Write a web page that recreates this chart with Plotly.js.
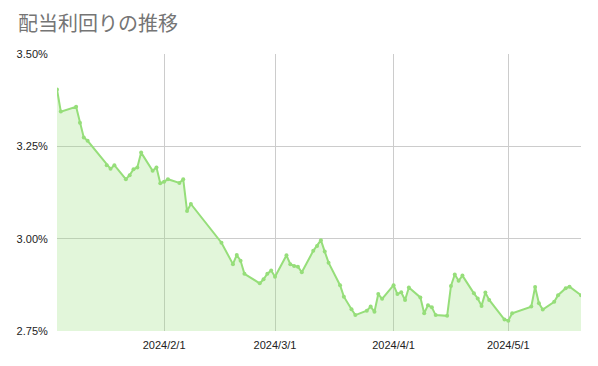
<!DOCTYPE html>
<html>
<head>
<meta charset="utf-8">
<script src="https://cdn.plot.ly/plotly-3.0.1.min.js"></script>
<style>html,body{margin:0;padding:0;background:#fff;}#chart{width:598px;height:366px;}</style>
</head>
<body>
<div id="chart"></div>
<script>
const dates = [
  "2024-01-04","2024-01-05","2024-01-09","2024-01-10","2024-01-11","2024-01-12",
  "2024-01-17","2024-01-18","2024-01-19","2024-01-22","2024-01-23","2024-01-24",
  "2024-01-25","2024-01-26","2024-01-29","2024-01-30","2024-01-31","2024-02-01",
  "2024-02-02","2024-02-05","2024-02-06","2024-02-07","2024-02-08","2024-02-16",
  "2024-02-19","2024-02-20","2024-02-21","2024-02-22","2024-02-26","2024-02-27",
  "2024-02-28","2024-02-29","2024-03-01","2024-03-04","2024-03-05","2024-03-06",
  "2024-03-07","2024-03-08","2024-03-11","2024-03-12","2024-03-13","2024-03-14",
  "2024-03-15","2024-03-18","2024-03-19","2024-03-21","2024-03-22","2024-03-25",
  "2024-03-26","2024-03-27","2024-03-28","2024-03-29","2024-04-01","2024-04-02",
  "2024-04-03","2024-04-04","2024-04-05","2024-04-08","2024-04-09","2024-04-10",
  "2024-04-11","2024-04-12","2024-04-15","2024-04-16","2024-04-17","2024-04-18",
  "2024-04-19","2024-04-22","2024-04-23","2024-04-24","2024-04-25","2024-04-26",
  "2024-04-30","2024-05-01","2024-05-02","2024-05-07","2024-05-08","2024-05-09",
  "2024-05-10","2024-05-13","2024-05-14","2024-05-16","2024-05-17","2024-05-20"
];
const yields = [
  3.404,3.344,3.357,3.314,3.274,3.265,
  3.199,3.189,3.199,3.161,3.172,3.188,
  3.193,3.233,3.184,3.193,3.150,3.154,
  3.161,3.151,3.161,3.075,3.094,2.989,
  2.931,2.956,2.940,2.905,2.879,2.890,
  2.905,2.914,2.897,2.955,2.931,2.926,
  2.924,2.909,2.967,2.980,2.996,2.965,
  2.935,2.874,2.843,2.809,2.793,2.805,
  2.816,2.802,2.850,2.837,2.874,2.850,
  2.855,2.834,2.868,2.841,2.798,2.820,
  2.814,2.793,2.791,2.872,2.903,2.886,
  2.900,2.852,2.838,2.818,2.854,2.834,
  2.781,2.778,2.798,2.816,2.869,2.825,
  2.808,2.829,2.847,2.866,2.870,2.847
];
const yTickVals = [2.75, 3.00, 3.25, 3.50];
const yTickText = ["2.75%", "3.00%", "3.25%", "3.50%"];
const xTickVals = ["2024-02-01", "2024-03-01", "2024-04-01", "2024-05-01"];
const xTickText = ["2024/2/1", "2024/3/1", "2024/4/1", "2024/5/1"];

const green = "rgb(150,222,122)";
const trace = {
  x: dates, y: yields, type: "scatter", mode: "lines+markers",
  line: {color: green, width: 2},
  marker: {color: green, size: 4},
  fill: "tozeroy", fillcolor: "rgba(150,222,122,0.28)",
  hoverinfo: "x+y"
};
const layout = {
  width: 598, height: 366,
  margin: {l: 57, r: 17, t: 54, b: 35},
  paper_bgcolor: "#fff", plot_bgcolor: "#fff",
  font: {family: "Arial, 'Liberation Sans', 'Noto Sans CJK JP', sans-serif", size: 11, color: "#222"},
  title: {text: "配当利回りの推移", x: 0.03, xanchor: "left", y: 0.935, yanchor: "middle",
          font: {family: "'Noto Sans CJK JP', sans-serif", size: 20, color: "#757575"}},
  showlegend: false,
  xaxis: {
    type: "date", range: ["2024-01-04", "2024-05-20"],
    tickvals: xTickVals, ticktext: xTickText,
    showgrid: true, gridcolor: "#cccccc", gridwidth: 1,
    zeroline: false, showline: false, ticks: "outside", ticklen: 4, tickcolor: "rgba(0,0,0,0)",
    tickfont: {size: 11, color: "#222"}
  },
  yaxis: {
    range: [2.75, 3.50], tickvals: yTickVals, ticktext: yTickText,
    showgrid: true, gridcolor: "#cccccc", gridwidth: 1,
    zeroline: false, showline: false, ticks: "outside", ticklen: 6, tickcolor: "rgba(0,0,0,0)",
    tickfont: {size: 11, color: "#222"}
  }
};
Plotly.newPlot("chart", [trace], layout, {displayModeBar: false, staticPlot: true});
</script>
</body>
</html>
